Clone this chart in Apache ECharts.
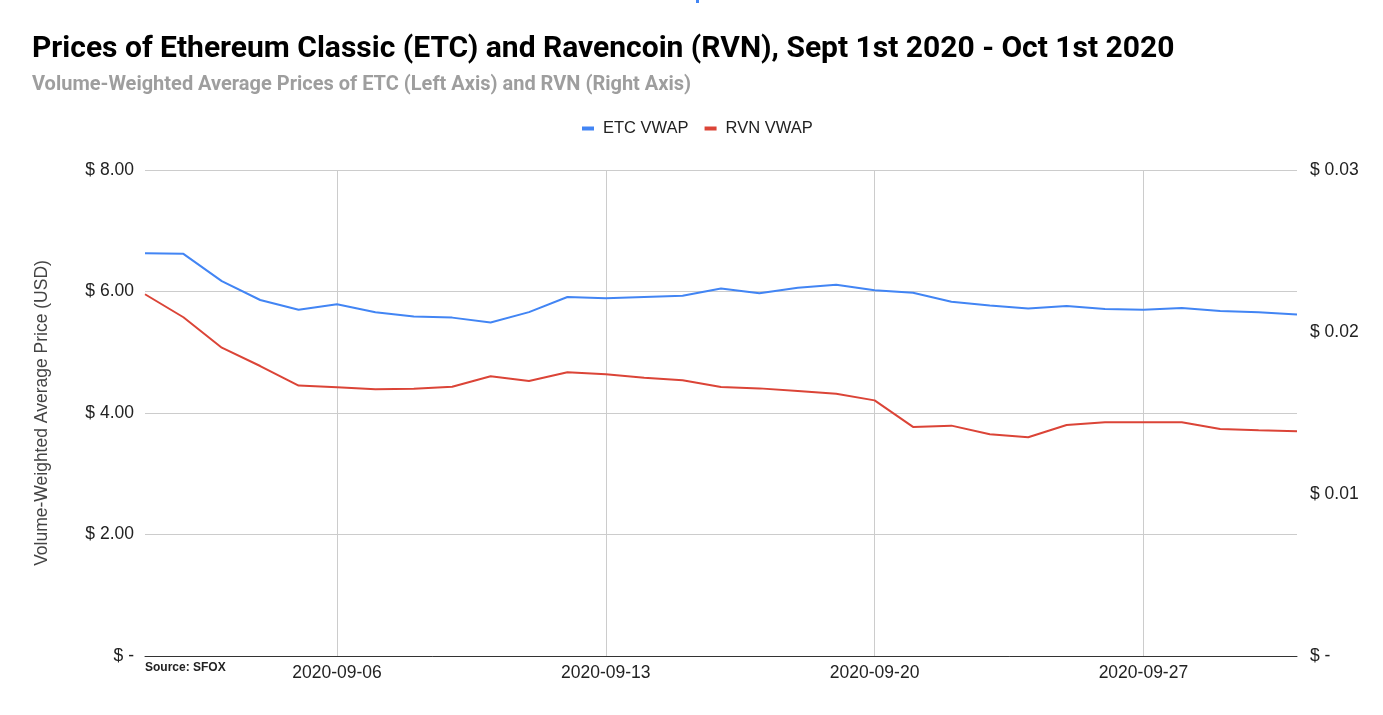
<!DOCTYPE html>
<html><head><meta charset="utf-8">
<script src="https://cdn.jsdelivr.net/npm/echarts@6/dist/echarts.min.js"></script>
<style>html,body{margin:0;padding:0;background:#fff}#c{width:1383px;height:715px}</style>
</head><body><div id="c"></div>
<script>
const dates = ["2020-09-01","2020-09-02","2020-09-03","2020-09-04","2020-09-05","2020-09-06","2020-09-07","2020-09-08","2020-09-09","2020-09-10","2020-09-11","2020-09-12","2020-09-13","2020-09-14","2020-09-15","2020-09-16","2020-09-17","2020-09-18","2020-09-19","2020-09-20","2020-09-21","2020-09-22","2020-09-23","2020-09-24","2020-09-25","2020-09-26","2020-09-27","2020-09-28","2020-09-29","2020-09-30","2020-10-01"];
const etcVwap = [6.63,6.62,6.17,5.86,5.70,5.79,5.66,5.59,5.57,5.49,5.66,5.91,5.89,5.91,5.93,6.05,5.97,6.06,6.11,6.02,5.98,5.83,5.77,5.72,5.76,5.71,5.70,5.73,5.68,5.66,5.62];
const rvnVwap = [0.02233,0.02091,0.01903,0.0179,0.01669,0.01659,0.01646,0.0165,0.01662,0.01727,0.01698,0.01751,0.01739,0.01718,0.01702,0.0166,0.01652,0.01636,0.01619,0.01578,0.01414,0.01422,0.01369,0.0135,0.01426,0.01443,0.01443,0.01443,0.01401,0.01393,0.01387];
const shownDates = ["2020-09-06","2020-09-13","2020-09-20","2020-09-27"];

const TF = 'Roboto, "Liberation Sans", Arial, sans-serif';
const F = '"Liberation Sans", Arial, Helvetica, sans-serif';
const chart = echarts.init(document.getElementById('c'), null, {renderer:'canvas'});
const isShown = (i, v) => shownDates.indexOf(dates[i]) >= 0;
const money = v => v === 0 ? '$ -' : '$ ' + v.toFixed(2);
chart.setOption({
  animation:false,
  textStyle:{fontFamily:F},
  title:[
    {text:'Prices of Ethereum Classic (ETC) and Ravencoin (RVN), Sept 1st 2020 - Oct 1st 2020', left:27, top:29,
     textStyle:{fontFamily:TF, fontSize:30, fontWeight:'bold', color:'#000'}},
    {text:'Volume-Weighted Average Prices of ETC (Left Axis) and RVN (Right Axis)', left:27, top:70,
     textStyle:{fontFamily:TF, fontSize:20, fontWeight:'bold', color:'#9e9e9e'}}
  ],
  legend:{top:115, left:577, icon:'rect', itemWidth:12, itemHeight:4, itemGap:16,
    textStyle:{fontFamily:F, fontSize:16.5, color:'#222', padding:[0,0,0,4]},
    data:['ETC VWAP','RVN VWAP']},
  grid:{left:145, right:86, top:170, bottom:59},
  xAxis:{type:'category', data:dates, boundaryGap:false,
    axisLine:{lineStyle:{color:'#333', width:1}},
    axisTick:{show:false},
    axisLabel:{interval:isShown, fontFamily:F, fontSize:17.5, color:'#222', margin:8},
    splitLine:{show:true, interval:isShown, lineStyle:{color:'#ccc'}}},
  yAxis:[
    {type:'value', min:0, max:8, interval:2, position:'left',
     name:'Volume-Weighted Average Price (USD)', nameLocation:'middle', nameGap:94,
     nameTextStyle:{fontFamily:F, fontSize:17.5, color:'#444'},
     axisLine:{show:false}, axisTick:{show:false},
     axisLabel:{fontFamily:F, fontSize:17.5, color:'#222', margin:11, formatter:money},
     splitLine:{lineStyle:{color:'#ccc'}}},
    {type:'value', min:0, max:0.03, interval:0.01, position:'right',
     axisLine:{show:false}, axisTick:{show:false},
     axisLabel:{fontFamily:F, fontSize:17.5, color:'#222', margin:13, formatter:money},
     splitLine:{show:false}}
  ],
  graphic:[
    {type:'text', left:145, top:662, style:{text:'Source: SFOX', font:'bold 12px '+F, fill:'#222'}},
    {type:'rect', shape:{x:696, y:0, width:3, height:3}, style:{fill:'#4285F4'}}
  ],
  series:[
    {name:'ETC VWAP', type:'line', yAxisIndex:0, data:etcVwap, symbol:'none',
     lineStyle:{color:'#4285F4', width:2}, itemStyle:{color:'#4285F4'}},
    {name:'RVN VWAP', type:'line', yAxisIndex:1, data:rvnVwap, symbol:'none',
     lineStyle:{color:'#DB4437', width:2}, itemStyle:{color:'#DB4437'}}
  ]
});
</script></body></html>
